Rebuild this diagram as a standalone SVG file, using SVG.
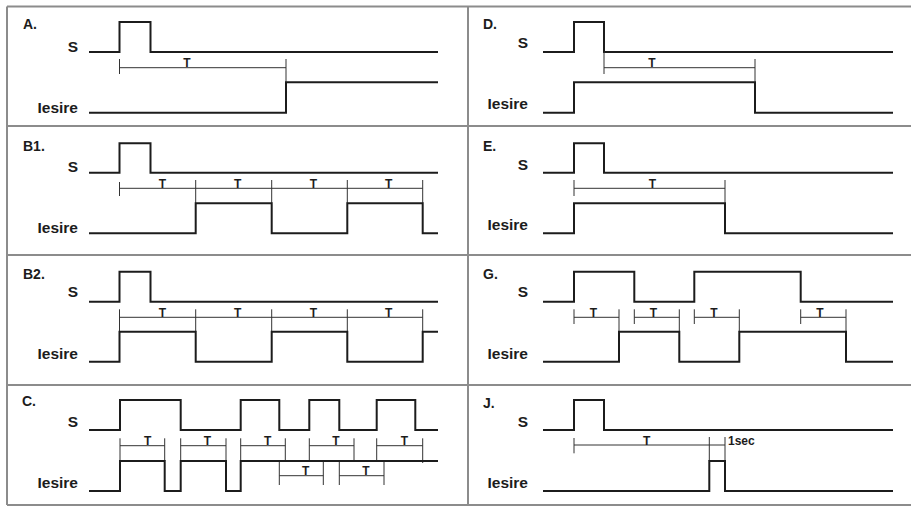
<svg xmlns="http://www.w3.org/2000/svg" width="911" height="506" viewBox="0 0 911 506">
<style>
.grid{stroke:#8c8c8c;stroke-width:2;fill:none}
.sig{fill:none;stroke:#1c1c1c;stroke-width:2}
.br{fill:none;stroke:#333333;stroke-width:1}
.lbl{font-family:"Liberation Sans",Arial,sans-serif;font-weight:bold;font-size:14px;fill:#1c1c1c}
.nm{font-family:"Liberation Sans",Arial,sans-serif;font-weight:bold;font-size:15.5px;fill:#1c1c1c;text-anchor:end}
.t{font-family:"Liberation Sans",Arial,sans-serif;font-weight:bold;font-size:12px;fill:#1c1c1c;text-anchor:middle}
.s{font-family:"Liberation Sans",Arial,sans-serif;font-weight:bold;font-size:12px;fill:#1c1c1c}
</style>
<rect width="911" height="506" fill="#ffffff"/>
<g id="grid" class="grid">
<path d="M7,6.5 H911 M7,126 H911 M7,255 H911 M7,385 H911 M7,505 H911 M7,6.5 V505 M468,6.5 V505"/>
</g>

<g id="panel-A">
<text class="lbl" x="23" y="29">A.</text>
<text class="nm" x="78" y="52">S</text>
<text class="nm" x="78" y="113">Iesire</text>
<path class="sig" d="M89,52 H119.5 V22 H150.5 V52 H438"/>
<path class="br" d="M119.5,59 V74 M119.5,67.7 H286 M286,59 V82"/>
<text class="t" x="187" y="67">T</text>
<path class="sig" d="M89,112.7 H286 V82.3 H438"/>
</g>

<g id="panel-D">
<text class="lbl" x="483" y="29">D.</text>
<text class="nm" x="528" y="48">S</text>
<text class="nm" x="528" y="109">Iesire</text>
<path class="sig" d="M543,52 H574 V22 H604 V52 H893"/>
<path class="br" d="M604,52 V74 M604,67.7 H755 M755,59 V82"/>
<text class="t" x="652" y="67">T</text>
<path class="sig" d="M543,112.7 H574 V82.3 H755 V112.7 H893"/>
</g>

<g id="panel-B1">
<text class="lbl" x="23" y="151">B1.</text>
<text class="nm" x="78" y="172">S</text>
<text class="nm" x="78" y="233">Iesire</text>
<path class="sig" d="M89,172.7 H119.5 V143.3 H150.5 V172.7 H438"/>
<path class="br" d="M119.5,182 V196 M119.5,188.3 H422.7 M195.7,180 V203 M271.7,180 V203 M347.3,180 V203 M422.7,180 V203"/>
<text class="t" x="162.3" y="188">T</text>
<text class="t" x="237.7" y="188">T</text>
<text class="t" x="313.3" y="188">T</text>
<text class="t" x="388.7" y="188">T</text>
<path class="sig" d="M89,233.3 H195.7 V203.3 H271.7 V233.3 H347.3 V203.3 H422.7 V233.3 H438"/>
</g>

<g id="panel-E">
<text class="lbl" x="483" y="151">E.</text>
<text class="nm" x="528" y="170">S</text>
<text class="nm" x="528" y="230">Iesire</text>
<path class="sig" d="M543,172.7 H574 V143.3 H604 V172.7 H893"/>
<path class="br" d="M574,180 V196 M574,188.3 H725 M725,180 V203"/>
<text class="t" x="652.3" y="188">T</text>
<path class="sig" d="M543,233.3 H574 V203.3 H725 V233.3 H893"/>
</g>

<g id="panel-B2">
<text class="lbl" x="23" y="279">B2.</text>
<text class="nm" x="78" y="297">S</text>
<text class="nm" x="78" y="359">Iesire</text>
<path class="sig" d="M89,301.7 H119.5 V271.7 H150.5 V301.7 H438"/>
<path class="br" d="M119.5,309.3 V331.7 M119.5,317.3 H422.7 M195.7,309.3 V331.7 M271.7,309.3 V331.7 M347.3,309.3 V331.7 M422.7,309.3 V331.7"/>
<text class="t" x="162.3" y="317">T</text>
<text class="t" x="237.7" y="317">T</text>
<text class="t" x="313.3" y="317">T</text>
<text class="t" x="388.7" y="317">T</text>
<path class="sig" d="M89,361.7 H119.5 V331.7 H195.7 V361.7 H271.7 V331.7 H347.3 V361.7 H422.7 V331.7 H438"/>
</g>

<g id="panel-G">
<text class="lbl" x="483" y="279">G.</text>
<text class="nm" x="528" y="297">S</text>
<text class="nm" x="528" y="359">Iesire</text>
<path class="sig" d="M543,301.7 H574 V271.7 H634.3 V301.7 H694.3 V271.7 H800.7 V301.7 H893"/>
<path class="br" d="M574,309.3 V324 M574,317.3 H619 M619,309.3 V331.7 M634.3,309.3 V324 M634.3,317.3 H679.3 M679.3,309.3 V331.7 M694.3,309.3 V324 M694.3,317.3 H739.3 M739.3,309.3 V331.7 M800.7,309.3 V324 M800.7,317.3 H846 M846,309.3 V331.7"/>
<text class="t" x="593.3" y="317">T</text>
<text class="t" x="653.3" y="317">T</text>
<text class="t" x="714" y="317">T</text>
<text class="t" x="820" y="317">T</text>
<path class="sig" d="M543,361.7 H619 V331.7 H679.3 V361.7 H739.3 V331.7 H846 V361.7 H893"/>
</g>

<g id="panel-C">
<text class="lbl" x="22" y="406">C.</text>
<text class="nm" x="78" y="427">S</text>
<text class="nm" x="78" y="488">Iesire</text>
<path class="sig" d="M89,430 H120 V400 H180.7 V430 H240.7 V400 H279.3 V430 H309.3 V400 H339.3 V430 H376.7 V400 H415.3 V430 H438"/>
<path class="br" d="M120,438.3 V461 M120,445.7 H164.7 M164.7,438.3 V461 M180.7,438.3 V461 M180.7,445.7 H226 M226,438.3 V461 M240.7,438.3 V461 M240.7,445.7 H285.3 M285.3,438.3 V461 M309.3,438.3 V461 M309.3,445.7 H354 M354,438.3 V461 M376.7,438.3 V462 M376.7,445.7 H422.7 M422.7,438.3 V463"/>
<path class="br" d="M279.3,461.7 V485 M279.3,475.7 H323.3 M323.3,461.7 V485 M339.3,461.7 V485 M339.3,475.7 H384 M384,461.7 V485"/>
<text class="t" x="147.7" y="445">T</text>
<text class="t" x="207.3" y="445">T</text>
<text class="t" x="267.7" y="445">T</text>
<text class="t" x="336" y="445">T</text>
<text class="t" x="404.3" y="445">T</text>
<text class="t" x="305.7" y="475">T</text>
<text class="t" x="366" y="475">T</text>
<path class="sig" d="M89,491 H120 V461 H164.7 V491 H180.7 V461 H226 V491 H240.7 V461 H438"/>
</g>

<g id="panel-J">
<text class="lbl" x="483" y="408">J.</text>
<text class="nm" x="528" y="427">S</text>
<text class="nm" x="528" y="488">Iesire</text>
<path class="sig" d="M543,430 H574 V400 H604 V430 H893"/>
<path class="br" d="M574,438 V453.3 M574,445 H725 M709.3,437 V461 M725,437 V461"/>
<text class="t" x="646.7" y="445">T</text>
<text class="s" x="728" y="445">1sec</text>
<path class="sig" d="M543,491 H709.3 V461 H725 V491 H893"/>
</g>
</svg>
